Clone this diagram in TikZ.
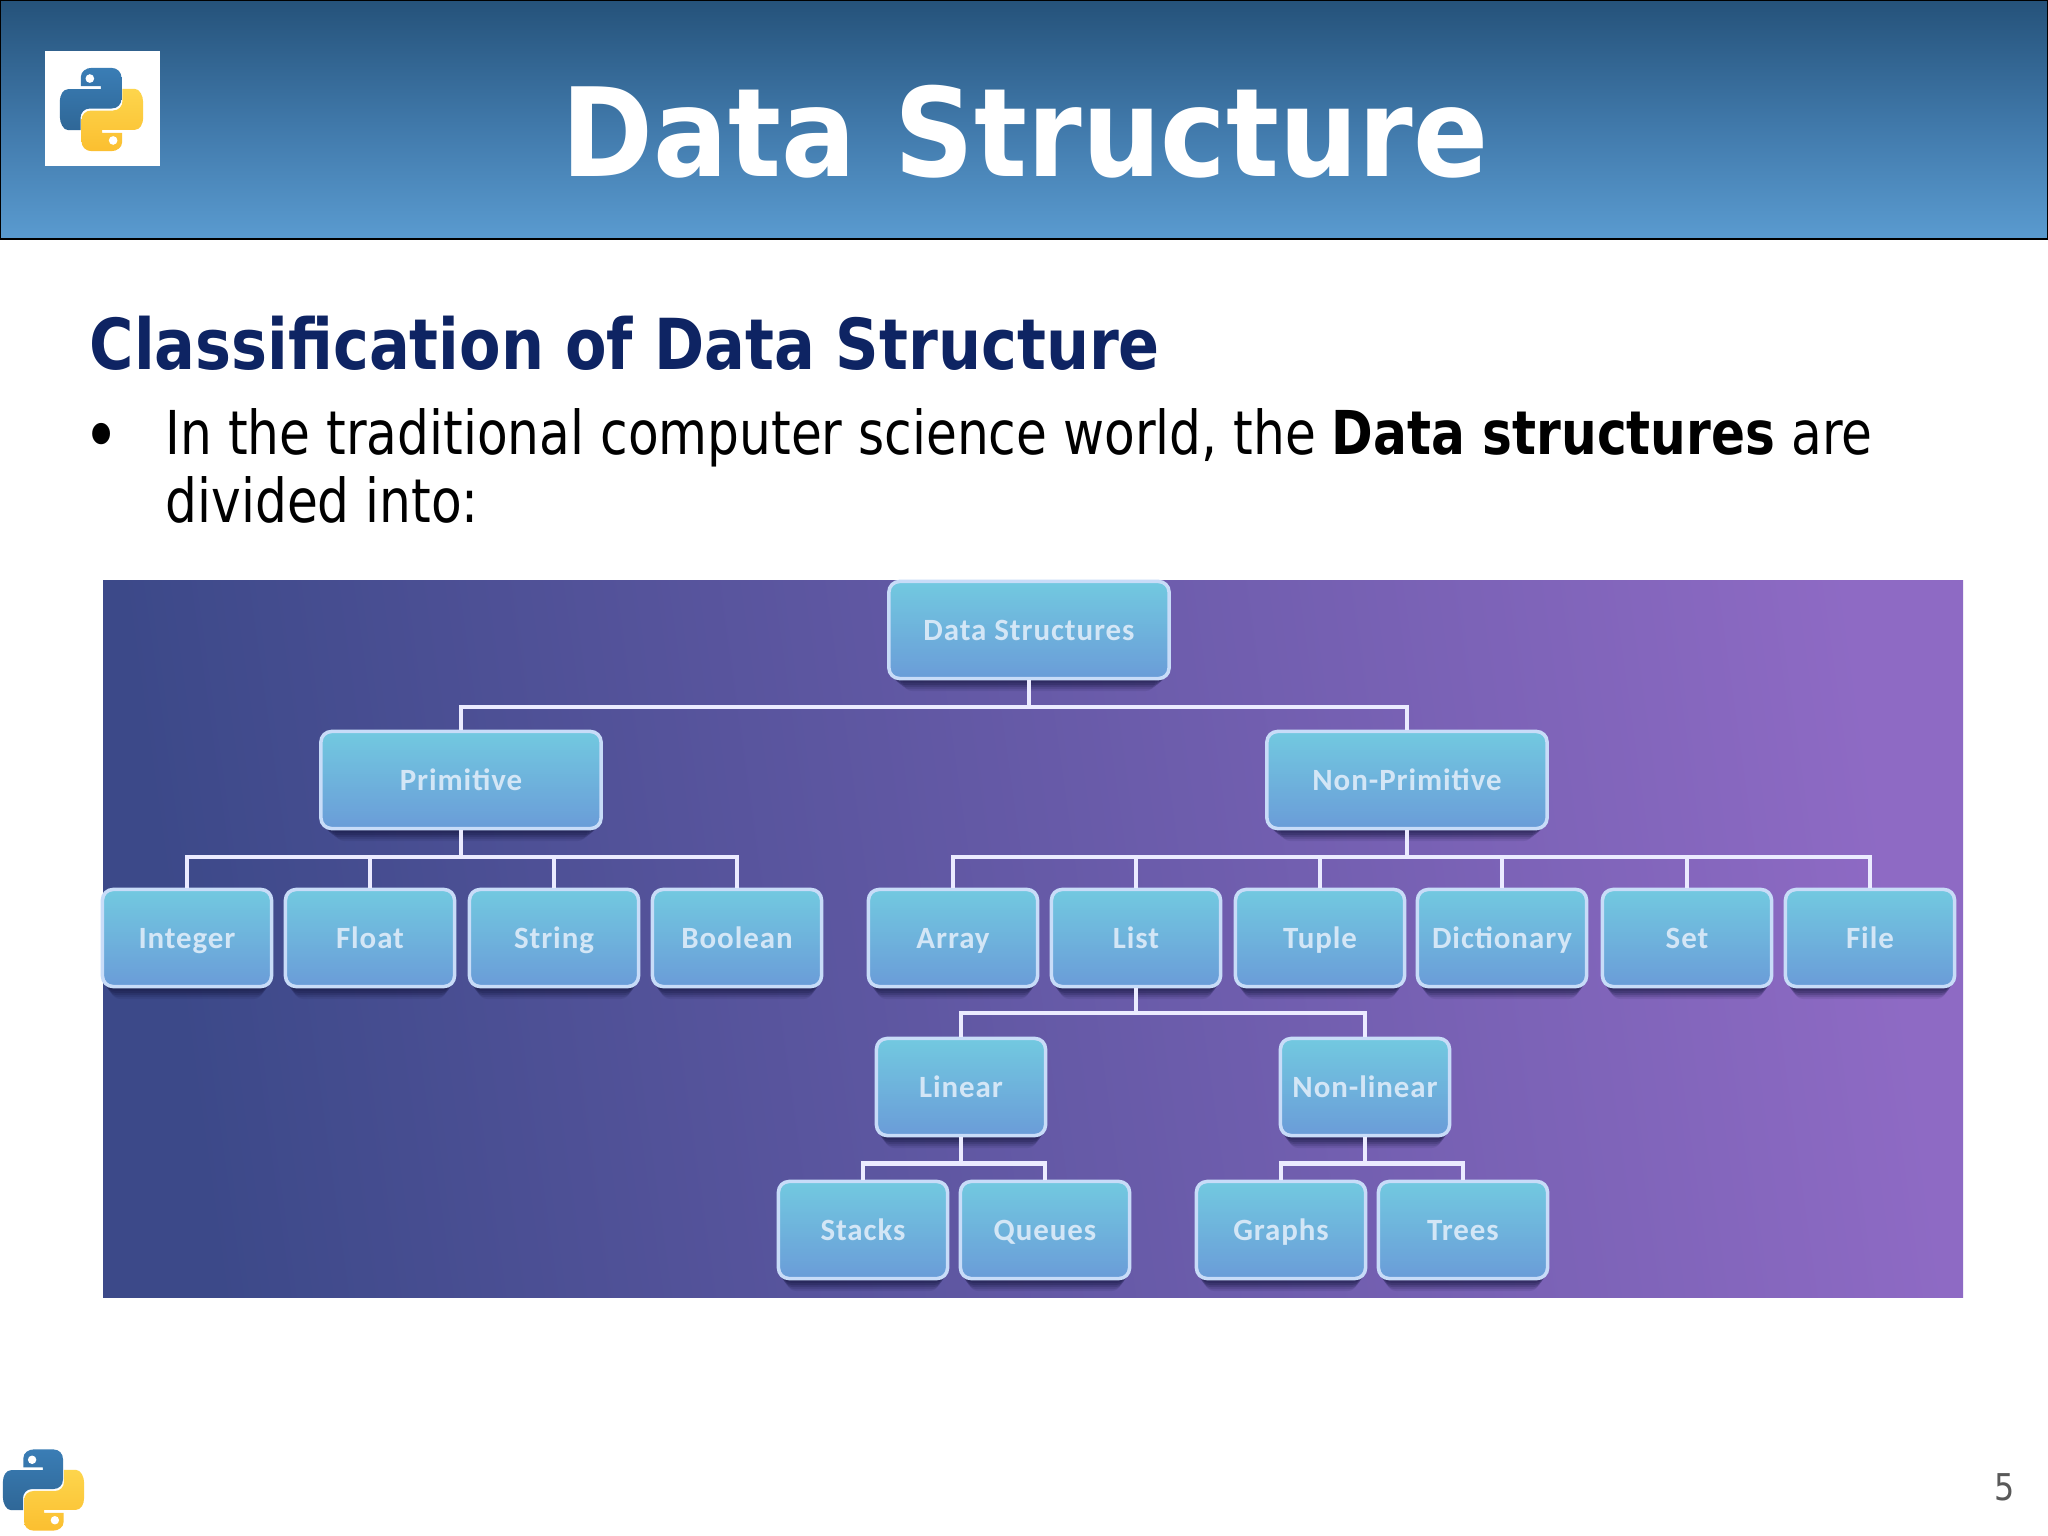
\documentclass[tikz,border=0pt]{standalone}
\usepackage{fontspec}
\usepackage{xcolor}
\usetikzlibrary{shadows}
\setmainfont{DejaVu Sans}[FakeStretch=0.86]
\newfontfamily\boxfont{Carlito}
\newfontfamily\titlefont{DejaVu Sans}[FakeStretch=0.9]
\newfontfamily\bodyfont{DejaVu Sans}[FakeStretch=0.83]
\definecolor{headtop}{HTML}{25527A}
\definecolor{headmid}{HTML}{3F77A8}
\definecolor{headbot}{HTML}{5A9BD0}
\definecolor{navy}{HTML}{0E2463}
\definecolor{panelleft}{HTML}{3C4989}
\definecolor{panelmid}{HTML}{5D5499}
\definecolor{panelright}{HTML}{8E6AC4}
\definecolor{boxtop}{HTML}{72C9E0}
\definecolor{boxbot}{HTML}{6A9CD8}
\definecolor{boxedge}{HTML}{C8DCF8}
\definecolor{boxtext}{HTML}{D3E6F6}
\definecolor{boxshade}{HTML}{14163F}
\definecolor{pybluea}{HTML}{3A7DB5}
\definecolor{pyblueb}{HTML}{2F6797}
\definecolor{pyyellowa}{HTML}{FDD54C}
\definecolor{pyyellowb}{HTML}{FBBF30}
\tikzset{
  softshadow/.style={
    general shadow={shadow xshift=0pt,shadow yshift=-5.5pt,shadow scale=0.9,fill=boxshade,opacity=0.1},
    general shadow={shadow xshift=0pt,shadow yshift=-4.5pt,shadow scale=0.92,fill=boxshade,opacity=0.15},
    general shadow={shadow xshift=0pt,shadow yshift=-3.5pt,shadow scale=0.94,fill=boxshade,opacity=0.2},
    general shadow={shadow xshift=0pt,shadow yshift=-2.5pt,shadow scale=0.96,fill=boxshade,opacity=0.25},
    general shadow={shadow xshift=0pt,shadow yshift=-1.5pt,shadow scale=0.98,fill=boxshade,opacity=0.25}},
  treebox/.style={rectangle,rounded corners=3pt,draw=boxedge,line width=1pt,
    top color=boxtop,bottom color=boxbot,softshadow,text=boxtext,inner sep=0pt,
    minimum width=1.69cm,minimum height=0.97cm,text height=7.5pt,text depth=1.5pt,
    font=\boxfont\bfseries\fontsize{8.8}{10}\selectfont\addfontfeature{LetterSpace=3}},
  bigbox/.style={treebox,minimum width=2.8cm},
  busline/.style={draw=white!92!blue,line width=1.25pt},
  bodytext/.style={anchor=base west,inner sep=0pt,text=black,font=\bodyfont\fontsize{17.2}{20}\selectfont}
}
\newcommand{\pyhalf}{(-62,-70) -- (-62,-98) .. controls (-62,-115) and (-45,-125) .. (-30,-125) -- (30,-125) .. controls (48,-125) and (60,-112) .. (60,-95) -- (60,-33) .. controls (60,-15) and (48,-3) .. (30,-3) -- (-35,-3) .. controls (-52,-3) and (-63,10) .. (-63,25) -- (-63,62) -- (-100,62) .. controls (-115,62) and (-125,40) .. (-125,22) -- (-125,-23) .. controls (-125,-45) and (-115,-61) .. (-100,-61) -- (-2,-61) -- (-2,-70) -- cycle}
\newcommand{\pylogo}[3]{
  \begin{scope}[shift={(#1,#2)},scale=#3]
    \path[shade,top color=pybluea,bottom color=pyblueb] \pyhalf;
    \fill[white] (-35,-93) circle (13);
    \begin{scope}[rotate=180]
      \path[shade,top color=pyyellowa,bottom color=pyyellowb] \pyhalf;
      \fill[white] (-35,-93) circle (13);
    \end{scope}
  \end{scope}}
\begin{document}
\begin{tikzpicture}[x=0.01cm,y=-0.01cm]
  \useasboundingbox (0,0) rectangle (2048,1536);
  \fill[white] (0,0) rectangle (2048,1536);
  % header
  \path[shade,top color=headtop,bottom color=headbot,middle color=headmid,draw=black,line width=0.8pt] (0,0) rectangle (2048,239);
  \fill[white] (45,51) rectangle (160,166);
  \pylogo{101.5}{109.5}{0.333}
  \node[anchor=base,inner sep=0pt,text=white,font=\titlefont\bfseries\fontsize{35}{40}\selectfont] (title) at (1025,176) {Data Structure};
  % text
  \node[anchor=base west,inner sep=0pt,text=navy,font=\bfseries\fontsize{20}{24}\selectfont] (heading) at (89,369) {Classification of Data Structure};
  \node[bodytext,font=\bodyfont\fontsize{21}{24}\selectfont] (bullet) at (83,461) {•};
  \node[bodytext] (lineone) at (165,454) {In the traditional computer science world, the \textbf{Data structures} are};
  \node[bodytext] (linetwo) at (165,522) {divided into:};
  % panel
  \path[shade,left color=panelleft,middle color=panelmid,right color=panelright,shading angle=98] (103,580) rectangle (1963,1297);
  \node[bigbox] (root) at (1029,630) {Data Structures};
  \node[bigbox] (prim) at (461,780) {Primitive};
  \node[bigbox] (nonprim) at (1407,780) {Non-Primitive};
  \node[treebox] (integer) at (187,938) {Integer};
  \node[treebox] (float) at (370,938) {Float};
  \node[treebox] (string) at (554,938) {String};
  \node[treebox] (boolean) at (737,938) {Boolean};
  \node[treebox] (array) at (953,938) {Array};
  \node[treebox] (list) at (1136,938) {List};
  \node[treebox] (tuple) at (1320,938) {Tuple};
  \node[treebox] (dict) at (1502,938) {Dictionary};
  \node[treebox] (set) at (1687,938) {Set};
  \node[treebox] (file) at (1870,938) {File};
  \node[treebox] (linear) at (961,1087) {Linear};
  \node[treebox] (nonlinear) at (1365,1087) {Non-linear};
  \node[treebox] (stacks) at (863,1230) {Stacks};
  \node[treebox] (queues) at (1045,1230) {Queues};
  \node[treebox] (graphs) at (1281,1230) {Graphs};
  \node[treebox] (trees) at (1463,1230) {Trees};
  % connectors
  \draw[busline] (root.south) -- ++(0,27) -| (prim.north);
  \draw[busline] (root.south) -- ++(0,27) -| (nonprim.north);
  \draw[busline] (prim.south) -- ++(0,27) -| (integer.north);
  \draw[busline] (prim.south) -- ++(0,27) -| (float.north);
  \draw[busline] (prim.south) -- ++(0,27) -| (string.north);
  \draw[busline] (prim.south) -- ++(0,27) -| (boolean.north);
  \draw[busline] (nonprim.south) -- ++(0,27) -| (array.north);
  \draw[busline] (nonprim.south) -- ++(0,27) -| (list.north);
  \draw[busline] (nonprim.south) -- ++(0,27) -| (tuple.north);
  \draw[busline] (nonprim.south) -- ++(0,27) -| (dict.north);
  \draw[busline] (nonprim.south) -- ++(0,27) -| (set.north);
  \draw[busline] (nonprim.south) -- ++(0,27) -| (file.north);
  \draw[busline] (list.south) -- ++(0,25) -| (linear.north);
  \draw[busline] (list.south) -- ++(0,25) -| (nonlinear.north);
  \draw[busline] (linear.south) -- ++(0,26) -| (stacks.north);
  \draw[busline] (linear.south) -- ++(0,26) -| (queues.north);
  \draw[busline] (nonlinear.south) -- ++(0,26) -| (graphs.north);
  \draw[busline] (nonlinear.south) -- ++(0,26) -| (trees.north);
  % footer
  \pylogo{43.5}{1490}{0.325}
  \node[anchor=base,inner sep=0pt,text=black!65,font=\fontsize{10.5}{12}\selectfont] (pageno) at (2005,1500) {5};
\end{tikzpicture}
\end{document}
